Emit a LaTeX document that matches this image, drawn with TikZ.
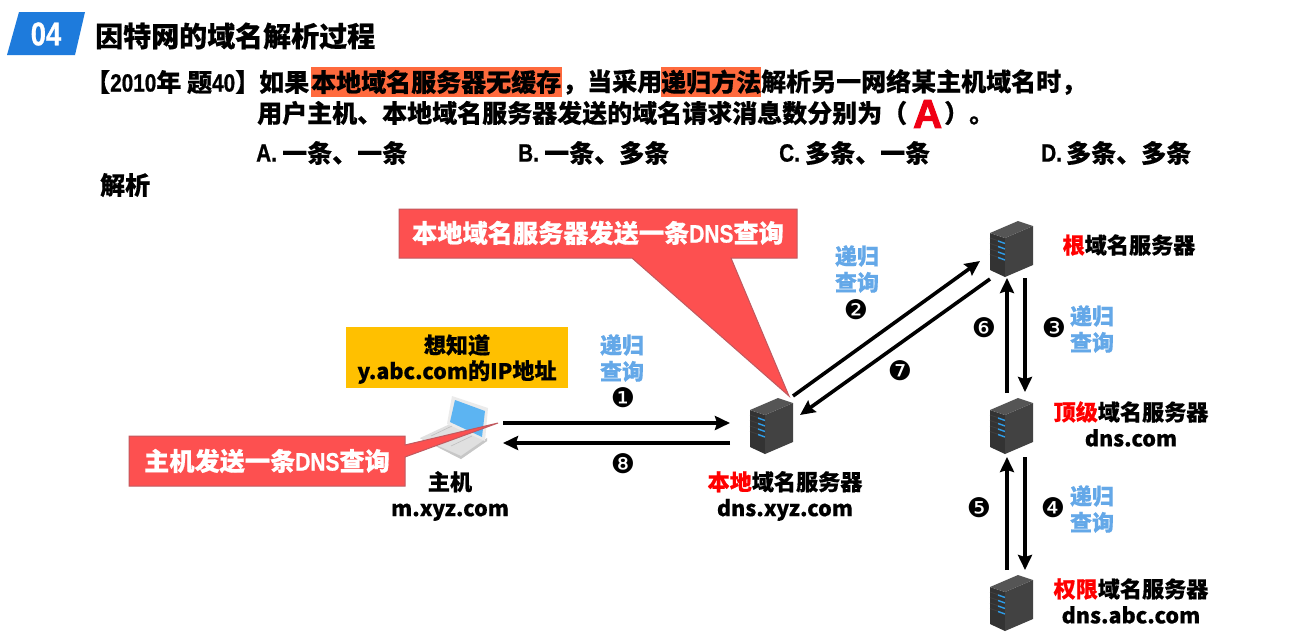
\documentclass[tikz,border=0pt]{standalone}
\usepackage{fontspec}
\usetikzlibrary{arrows.meta}
\setmainfont{Noto Sans CJK SC}[BoldFeatures={FakeBold=0.5}]
\newfontfamily\narfont{Liberation Sans Bold}[FakeStretch=0.83,FakeBold=0.8]
\newfontfamily\bigafont{Liberation Sans Bold}[FakeBold=2.5]
\newfontfamily\symfont{DejaVu Sans}
\newcommand{\nar}[1]{{\narfont #1}}
\newcommand{\lat}[1]{{\fontsize{21.5}{26}\selectfont #1}}
\definecolor{hl}{HTML}{FF6A3D}
\definecolor{calloutfill}{HTML}{FD5050}
\definecolor{calloutedge}{HTML}{C0595F}
\definecolor{badge}{HTML}{1E7BDC}
\definecolor{skyb}{HTML}{64A8E8}
\definecolor{gold}{HTML}{FFC000}
\definecolor{srvL}{HTML}{333333}
\definecolor{srvR}{HTML}{424242}
\definecolor{srvT}{HTML}{555555}
\definecolor{lightb}{HTML}{2E9BE6}
\definecolor{lapscreen}{HTML}{5CB4F2}
\tikzset{
  qtext/.style={anchor=west,inner sep=0pt,font=\fontsize{25}{25}\selectfont\bfseries},
  lbl/.style={inner sep=0pt,align=center,font=\fontsize{22.1}{26}\selectfont\bfseries},
  blue label/.style={inner sep=0pt,align=center,text=skyb,font=\fontsize{22}{26.5}\selectfont\bfseries},
  callout text/.style={inner sep=0pt,text=white,font=\fontsize{25.2}{25}\selectfont\bfseries},
  num/.style={inner sep=0pt,font=\fontsize{27}{27}\selectfont\symfont},
  flow/.style={draw=black,line width=3.6pt,-{Stealth[length=15pt,width=14pt,inset=2pt]}},
  calloutshape/.style={fill=calloutfill,draw=calloutedge,line width=1pt,line join=miter},
  srvbox/.style={inner sep=0pt,minimum width=43pt,minimum height=57pt},
  pics/server/.style={code={
    \fill[srvL] (0,12) -- (15,17) -- (15,56) -- (0,49) -- cycle;
    \fill[srvR] (15,17) -- (43,5) -- (43,44) -- (15,56) -- cycle;
    \fill[srvT] (0,12) -- (28,0) -- (43,5) -- (15,17) -- cycle;
    \foreach \yy in {0,1,2,3}{
      \draw[black!75,line width=.8pt] (0,17+5.5*\yy) -- (15,22+5.5*\yy);
      \draw[lightb,line width=1.4pt] (8,20+5.5*\yy) -- (15,22.5+5.5*\yy);
    }
  }}
}
\begin{document}
\begin{tikzpicture}[x=1pt,y=-1pt]
\useasboundingbox (0,0) rectangle (1294,638);
\fill[white] (0,0) rectangle (1294,638);
% header
\fill[badge] (19,12) -- (85,12) -- (75,55) -- (7,55) -- cycle;
\node[inner sep=0pt,text=white,font=\fontsize{33}{33}\selectfont] (badgetxt) at (46,34) {\nar{04}};
\node[qtext,font=\fontsize{28}{28}\selectfont\bfseries] (title) at (95,36) {因特网的域名解析过程};
% highlights
\fill[hl] (311,67) rectangle (562,97);
\fill[hl] (661,67) rectangle (761,97);
% question
\node[qtext] (yr) at (85,82) {【\nar{2010}年 题\nar{40}】};
\node[qtext] (q1a) at (259,82) {如果};
\node[qtext] (q1b) at (311,82) {本地域名服务器无缓存};
\node[qtext] (q1c) at (562,82) {，当采用};
\node[qtext] (q1d) at (661,82) {递归方法};
\node[qtext] (q1e) at (761,82) {解析另一网络某主机域名时，};
\node[qtext] (q2a) at (257,113) {用户主机、本地域名服务器发送的域名请求消息数分别为（};
\node[qtext,text={rgb,255:red,240;green,0;blue,20},font=\fontsize{40}{40}\selectfont] (ans) at (913,114) {\bigafont A};
\node[qtext] (q2b) at (944,113) {）。};
\node[qtext] (oa) at (256,153) {\nar{A.}};
\node[qtext] (oat) at (282,153) {一条、一条};
\node[qtext] (ob) at (518,153) {\nar{B.}};
\node[qtext] (obt) at (544,153) {一条、多条};
\node[qtext] (oc) at (779,153) {\nar{C.}};
\node[qtext] (oct) at (805,153) {多条、一条};
\node[qtext] (od) at (1041,153) {\nar{D.}};
\node[qtext] (odt) at (1066,153) {多条、多条};
\node[qtext] (ana) at (100,185) {解析};
% yellow note
\node[fill=gold,minimum width=222pt,minimum height=61pt,inner sep=0pt] (note) at (457,357.5) {};
\node[lbl] (note1) at (457,345) {想知道};
\node[lbl] (note2) at (457,372) {\lat{y.abc.com}的\lat{IP}地址};
% laptop
\fill[black!12] (420,438) -- (450,424) -- (487,441) -- (461,459) -- cycle;
\fill[black!22] (420,438) -- (461,456) -- (487,438) -- (487,441) -- (461,459) -- cycle;
\fill[black!8] (452,396) -- (488,408) -- (485,441) -- (447,424) -- cycle;
\fill[lapscreen] (455,400) -- (485,411) -- (482,437) -- (450,422) -- cycle;
\draw[black!25,line width=.6pt] (431,436) -- (452,426) (441,441) -- (462,431) (451,446) -- (472,436);
\node[inner sep=0pt,minimum width=70pt,minimum height=63pt] (host) at (455,427) {};
% servers
\node[srvbox] (local) at (771.5,426.5) {};
\node[srvbox] (root) at (1011.5,249.5) {};
\node[srvbox] (tld) at (1011.5,426.5) {};
\node[srvbox] (auth) at (1011.5,603.5) {};
\pic at (750,398) {server};
\pic at (990,221) {server};
\pic at (990,398) {server};
\pic at (990,575) {server};
% callouts
\draw[calloutshape] (399,209) -- (797,209) -- (797,258) -- (731,258) -- (789,396) -- (632,258) -- (399,258) -- cycle;
\node[callout text] (callA) at (598,233) {本地域名服务器发送一条\nar{DNS}查询};
\draw[calloutshape] (129,436) -- (405,436) -- (405,445) -- (498,423) -- (405,457) -- (405,486) -- (129,486) -- cycle;
\node[callout text] (callB) at (267,461) {主机发送一条\nar{DNS}查询};
% connector ends
\coordinate (h1) at (503,423); \coordinate (l1) at (730,423);
\coordinate (l8) at (730,443); \coordinate (h8) at (503,443);
\coordinate (l2) at (793,396); \coordinate (r2) at (980,261);
\coordinate (r7) at (990,279); \coordinate (l7) at (800,415);
\coordinate (t6) at (1007,393); \coordinate (r6) at (1007,278);
\coordinate (r3) at (1025,278); \coordinate (t3) at (1025,392);
\coordinate (a5) at (1007,570); \coordinate (t5) at (1007,457);
\coordinate (t4) at (1025,457); \coordinate (a4) at (1025,570);
\draw[flow] (h1) -- (l1);
\draw[flow] (l8) -- (h8);
\draw[flow] (l2) -- (r2);
\draw[flow] (r7) -- (l7);
\draw[flow] (t6) -- (r6);
\draw[flow] (r3) -- (t3);
\draw[flow] (a5) -- (t5);
\draw[flow] (t4) -- (a4);
% blue labels
\node[blue label] (b1) at (622,358) {递归\\查询};
\node[blue label] (b2) at (857,269) {递归\\查询};
\node[blue label] (b3) at (1092,329) {递归\\查询};
\node[blue label] (b4) at (1092,509) {递归\\查询};
% numbers
\node[num] (n1) at (623,398) {❶};
\node[num] (n2) at (856,310) {❷};
\node[num] (n3) at (1054,328) {❸};
\node[num] (n4) at (1053,508) {❹};
\node[num] (n5) at (979,508) {❺};
\node[num] (n6) at (984,328) {❻};
\node[num] (n7) at (900,371) {❼};
\node[num] (n8) at (623,464) {❽};
% server labels
\node[lbl] (hostlbl) at (450,496) {主机\\\lat{m.xyz.com}};
\node[lbl] (locallbl) at (785,496) {\textcolor{red}{本地}域名服务器\\\lat{dns.xyz.com}};
\node[lbl] (rootlbl) at (1129,245) {\textcolor{red}{根}域名服务器};
\node[lbl] (tldlbl) at (1131,424) {\textcolor{red}{顶级}域名服务器\\\lat{dns.com}};
\node[lbl] (authlbl) at (1131,601) {\textcolor{red}{权限}域名服务器\\\lat{dns.abc.com}};
\end{tikzpicture}
\end{document}
